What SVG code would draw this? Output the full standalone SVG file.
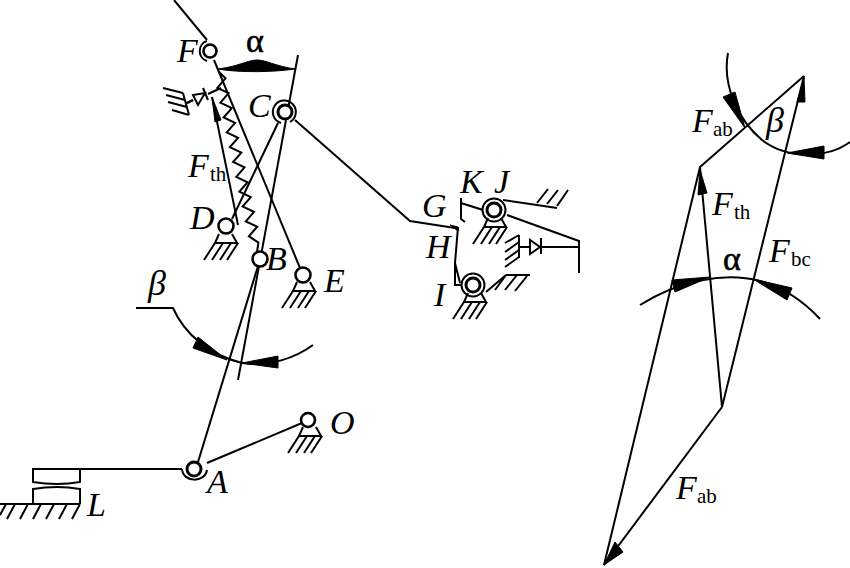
<svg xmlns="http://www.w3.org/2000/svg" width="850" height="568" viewBox="0 0 850 568">
<style>
text{font-family:"Liberation Serif","Times New Roman",serif;fill:#000}
.l{font-style:italic;font-size:34px}
.s{font-size:21px;font-style:normal}
.g{font-size:34px;font-weight:normal;stroke:#000;stroke-width:.6}
.b{font-style:italic;font-size:36px}
path,line,circle{fill:none;stroke:#000;stroke-width:2}
.w{fill:#fff;stroke-width:2.6}
.t{stroke-width:3}
.a{fill:#000;stroke:#000;stroke-width:1}
</style>
<defs>
<g id="sup"><path d="M-6-9-10 0H12L7-9"/><path d="M-10 0-21 17M-2 0-13 17M6 0-5 17M13 0 2 17"/></g>
</defs>
<rect width="850" height="568" fill="#fff"/>
<g id="connectors">
<path d="M174 0 207 40"/>
<path d="M214 60 300 268"/>
<path d="M298 55 238 380"/>
<path d="M278 123 232 219"/>
<path d="M212 97 238 225"/>
<path d="M198 462 258 266"/>
<path d="M219 72 225.500 78.400 217.300 87.800 228.600 93.200 220.400 102.700 231.800 108.100 223.600 117.500 235 122.900 226.800 132.300 238.100 137.750 229.900 147.200 241.300 152.600 233.100 162 244.500 167.400 236.300 176.800 247.600 182.250 239.400 191.700 250.800 197.100 242.600 206.500 254 211.900 245.800 221.300 257.200 226.750 248.900 236.200 258.400 242.600 257 252"/>
<path d="M295 120 410 221 455 228"/>
<path d="M461 198V219L465 222M461 203 483 210M458 227 455 263V285H462M455 263 460 283"/>
<path d="M503 200 557 208M507 215 579 241V273M518 247H530M541 247H579"/>
<path d="M486 292 506 275"/>
<path d="M207 463 302 423"/>
<path d="M80 469H182"/>
<path d="M136 308H173C185 335 210 355 242 363C270 367 295 358 313 345"/>
<path d="M187 103 193 100M208 94 221 88"/>
<path d="M804 76 700 167 604 565"/>
<path d="M804 76 722 407 700 167"/>
<path d="M722 407 604 565"/>
<path d="M728 53C722 85 738 120 762 140 785 158 825 160 850 142"/>
<path d="M640 305C680 280 725 272 760 281 785 288 805 303 820 319"/>
</g>
<g id="arrowheads">
<path class="a" d="M218 69C240 66 248 60 257 60 266 60 275 66 295 69 275 72 240 73 218 69Z"/>
<path class="a" d="M212 97 221 120 215 122Z"/>
<path class="a" d="M450 225 458 227 458 231Z"/>
<path class="a" d="M227 360 198 337 193 348Z"/>
<path class="a" d="M242 363 278 356V368Z"/>
<path class="a" d="M804 78 797 102H805Z"/>
<path class="a" d="M700 170 698 195 707 193Z"/>
<path class="a" d="M604 565 615 542 623 552Z"/>
<path class="a" d="M745 128 723 97 735 92Z"/>
<path class="a" d="M787 153 824 146V159Z"/>
<path class="a" d="M710 277 672 280 675 292Z"/>
<path class="a" d="M753 279 792 288 787 300Z"/>
</g>
<g id="node-F"><circle class="w" cx="210" cy="51" r="6.500"/><path d="M207 41A10.500 10.500 0 0 0 207 61"/><text class="l" x="177" y="62">F</text></g>
<g id="node-alpha"><text class="g" x="246" y="52">α</text></g>
<g id="node-C"><circle class="w t" cx="285" cy="112" r="7"/><path d="M281 123A11.500 11.500 0 1 1 290 122"/><text class="l" x="248" y="117">C</text></g>
<g id="node-Fth"><text class="l" x="188" y="177">F<tspan class="s" x="210" y="181">th</tspan></text></g>
<g id="node-damper-top"><path d="M183 93 189 115M163 88 183 93M166 95 185 100M168 102 187 107M172 110 189 115M187 103 193 100"/><path d="M193 95 198 105 205 93ZM203 88 208 100"/></g>
<g id="node-D"><circle class="w" cx="226" cy="226" r="7.500"/><use href="#sup" x="225" y="243"/><text class="l" x="190" y="229">D</text></g>
<g id="node-B"><circle class="w" cx="260" cy="259" r="7.500"/><text class="l" x="266" y="270">B</text></g>
<g id="node-E"><circle class="w" cx="303" cy="275" r="7.500"/><use href="#sup" x="303" y="291"/><text class="l" x="324" y="292">E</text></g>
<g id="node-beta-left"><text class="b" x="148" y="295">β</text></g>
<g id="node-A"><circle class="w t" cx="194" cy="469" r="7"/><path d="M182 469C183 483 205 483 207 470"/><text class="l" x="207" y="493">A</text></g>
<g id="node-O"><circle class="w" cx="308" cy="420" r="7"/><use href="#sup" x="309" y="436"/><text class="l" x="330" y="434">O</text></g>
<g id="node-L">
<path d="M80 469H33V482Q57 486 80 482ZM33 504V489Q57 485 80 489V504"/>
<path d="M0 504H80M15 504 7 519M28 504 20 519M41 504 33 519M54 504 46 519M67 504 59 519M80 504 72 519M6 504 0 515"/>
<text class="l" x="87" y="516">L</text>
</g>
<g id="node-J"><circle class="w t" cx="494" cy="210" r="7"/><circle cx="494" cy="210" r="11.500"/><use href="#sup" x="494" y="227"/><text class="l" x="494" y="193">J</text></g>
<g id="node-J-ground"><path d="M537 203 548 189M547 204 558 190M557 206 568 190"/></g>
<g id="node-K"><text class="l" x="460" y="193">K</text></g>
<g id="node-G"><text class="l" x="422" y="217">G</text></g>
<g id="node-H"><text class="l" x="426" y="258">H</text></g>
<g id="node-I"><circle class="w t" cx="473" cy="285" r="7"/><circle cx="473" cy="285" r="11.500"/><use href="#sup" x="474" y="302"/><text class="l" x="434" y="306">I</text></g>
<g id="node-I-ground"><path d="M506 275H530M506 275 495 290M517 275 505 290M527 276 515 291"/></g>
<g id="node-damper-right"><path d="M519 235V258M519 235 505 243M519 242 505 252M519 250 505 260M519 257 505 267"/><path d="M530 240V254L540 247ZM541 238V254"/></g>
<g id="node-force-labels">
<text class="l" x="692" y="132">F<tspan class="s" x="713" y="136">ab</tspan></text>
<text class="b" x="766" y="132">β</text>
<text class="l" x="712" y="215">F<tspan class="s" x="734" y="219">th</tspan></text>
<text class="g" x="723" y="270">α</text>
<text class="l" x="769" y="262">F<tspan class="s" x="791" y="266">bc</tspan></text>
<text class="l" x="676" y="499">F<tspan class="s" x="697" y="503">ab</tspan></text>
</g>
</svg>
